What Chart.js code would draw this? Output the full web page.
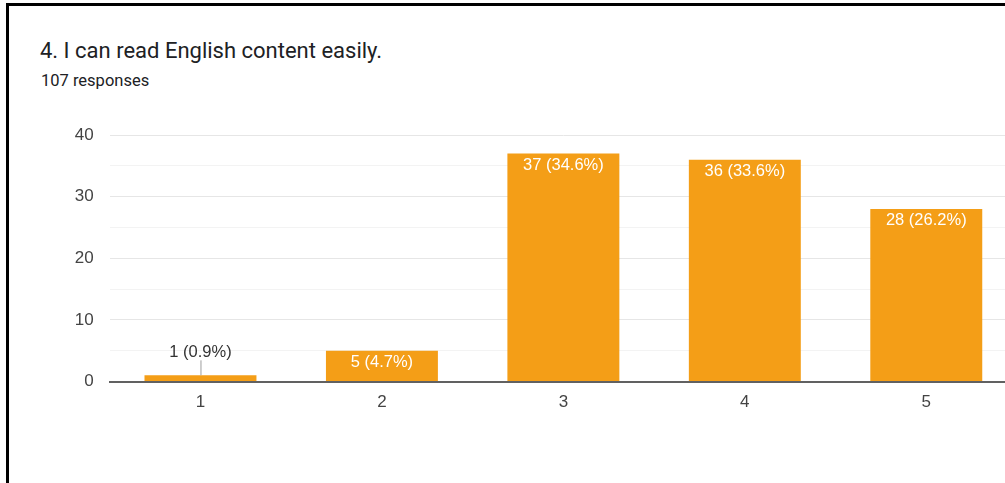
<!DOCTYPE html>
<html>
<head>
<meta charset="utf-8">
<script src="https://cdn.jsdelivr.net/npm/chart.js@4.4.1/dist/chart.umd.min.js"></script>
<style>
  html, body { margin: 0; padding: 0; background: #fff; overflow: hidden; }
  #page { position: relative; width: 1005px; height: 483px; overflow: hidden; background: #fff; }
  #frame { position: absolute; left: 6px; top: 3px; width: 1100px; height: 600px; border: 3px solid #000; box-sizing: border-box; }
  #title { position: absolute; left: 40px; top: 38px; font: 22px Roboto, Arial, sans-serif; color: #202124; white-space: nowrap; }
  #sub { position: absolute; left: 41px; top: 71px; font: 16.5px Roboto, Arial, sans-serif; color: #202124; white-space: nowrap; }
  #chart { position: absolute; left: 0; top: 0; }
</style>
</head>
<body>
<div id="page">
  <div id="frame"></div>
  <div id="title">4. I can read English content easily.</div>
  <div id="sub">107 responses</div>
  <canvas id="chart" width="1030" height="483"></canvas>
</div>
<script>
// Linear scale answers and counts
const categories = ['1', '2', '3', '4', '5'];
const counts = [1, 5, 37, 36, 28];
const yTicks = [0, 10, 20, 30, 40];

const total = counts.reduce((a, b) => a + b, 0);
const barColor = '#f49e17';
const tickFont = { family: '"Liberation Sans", Arial, sans-serif', size: 17 };

// Value labels: inside the bar in white, or above it with a short leader line
const barLabels = {
    id: 'barLabels',
    afterDatasetsDraw(chart) {
        const { ctx } = chart;
        const meta = chart.getDatasetMeta(0);
        ctx.save();
        ctx.font = '16.5px "Liberation Sans", Arial, sans-serif';
        ctx.textAlign = 'center';
        ctx.textBaseline = 'middle';
        meta.data.forEach((bar, i) => {
            const v = counts[i];
            const text = `${v} (${(v / total * 100).toFixed(1)}%)`;
            const h = bar.base - bar.y;
            if (h > 22) {
                ctx.fillStyle = '#ffffff';
                ctx.fillText(text, bar.x, bar.y + 12);
            } else {
                ctx.strokeStyle = '#9e9e9e';
                ctx.lineWidth = 1;
                ctx.beginPath();
                ctx.moveTo(bar.x + 0.5, bar.y - 15);
                ctx.lineTo(bar.x + 0.5, bar.y);
                ctx.stroke();
                ctx.fillStyle = '#333333';
                ctx.fillText(text, bar.x, bar.y - 23);
            }
        });
        ctx.restore();
    }
};

new Chart(document.getElementById('chart'), {
    type: 'bar',
    data: {
        labels: categories,
        datasets: [{
            data: counts,
            backgroundColor: barColor,
            borderWidth: 0,
            barPercentage: 0.617,
            categoryPercentage: 1
        }]
    },
    options: {
        responsive: false,
        animation: false,
        layout: { padding: { left: 0, right: 13, top: 135, bottom: 61.5 } },
        plugins: { legend: { display: false }, tooltip: { enabled: false } },
        scales: {
            x: {
                grid: { display: false, drawTicks: false },
                border: { display: true, color: '#616161', width: 2 },
                ticks: { color: '#444', font: tickFont, padding: 11 },
                afterFit(scale) { scale.height = 40; }
            },
            y: {
                min: yTicks[0],
                max: yTicks[yTicks.length - 1],
                border: { display: false },
                grid: {
                    drawTicks: false,
                    color: ctx => yTicks.includes(ctx.tick.value) ? '#e6e6e6' : '#f3f3f3',
                    lineWidth: 1
                },
                ticks: {
                    stepSize: 5,
                    color: '#444',
                    font: tickFont,
                    padding: 16,
                    callback: v => yTicks.includes(v) ? v : ''
                },
                afterFit(scale) { scale.width = 109.75; }
            }
        }
    },
    plugins: [barLabels]
});
</script>
</body>
</html>
